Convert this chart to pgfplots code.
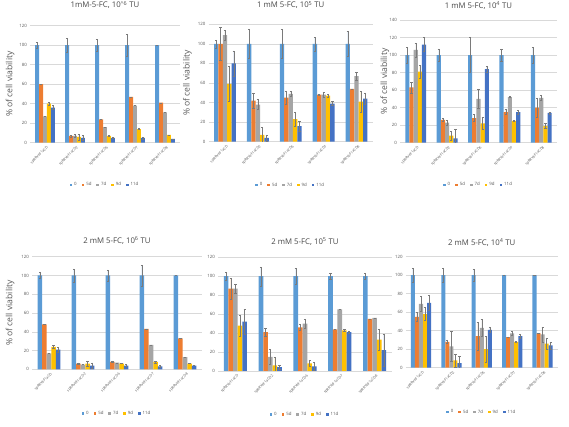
\documentclass[border=0pt]{standalone}
\usepackage{pgfplots}
\pgfplotsset{compat=1.18}
\usepackage{pgfplotstable}
\usepackage{fontspec}
\setmainfont{Open Sans}
\definecolor{c0}{HTML}{5B9BD5}
\definecolor{c5}{HTML}{ED7D31}
\definecolor{c7}{HTML}{A5A5A5}
\definecolor{c9}{HTML}{FFC000}
\definecolor{c11}{HTML}{4472C4}
\definecolor{txt}{HTML}{595959}
\definecolor{grd}{HTML}{D9D9D9}

% columns: 0, 5d, 7d, 9d, 11d with errors
\pgfplotstableread{
x a ae b be c ce d de e ee
0 100 3 60 0 27 0 40 1.5 36 2
1 100 7 7 1 7 1.5 6 3 5 2.5
2 100 6 24 0 16 0 7 0.5 5 0.5
3 100 11 47 0 38 0 14 0.5 5 1
4 100 0 41 0 31 0 8 0 4 0
}\tA
\pgfplotstableread{
x a ae b be c ce d de e ee
0 100 4 100 17 109 5 59 18 80 13
1 100 15 42 8 38 5 7 8 4 3
2 100 15 45 7 49 3 23 7 16 5
3 100 7 48 0.5 48 3 47 2 39 2
4 100 13 54 0 67 4 41 11 44 6
}\tB
\pgfplotstableread{
x a ae b be c ce d de e ee
0 100 9 63 6 106 8 81 7 112 8
1 100 7 26 2 23 3 8 5 5 10
2 100 20 28 4 50 11 22 7 84 3
3 100 7 35 3 52 0.5 25 1 35 2
4 100 9 40 11 51 3 19 3 34 1
}\tC
\pgfplotstableread{
x a ae b be c ce d de e ee
0 100 3 48 0 17 0 24 2 21 2.5
1 100 7 6 1 5 0 6 3 4 3
2 100 6 8 0.5 7 0 6 0 4 1
3 100 11 43 0 26 0 8 1 3 1
4 100 0 33 0 13 0 6 0 4 0
}\tD
\pgfplotstableread{
x a ae b be c ce d de e ee
0 100 4 87 11 87 5 48 11 52 13
1 100 10 41 4 15 8 6 9 4 2
2 100 8 46 3 50 5 8 3 5 4
3 100 3 44 0 65 0 43 1 41 1.5
4 100 3 55 0 56 0 33 11 22 17
}\tE
\pgfplotstableread{
x a ae b be c ce d de e ee
0 100 8 55 5 69 8 58 7 70 8
1 100 8 28 2 23 16 8 7 5 7
2 100 6 34 15 43 9 20 14 41 3
3 100 0.5 33 0.5 37 2 28 0.5 34 2
4 100 0 37 0 36 8 26 6 24 4
}\tF

\pgfplotsset{
  panel/.style={
    scale only axis,
    anchor=south west,
    ybar=0pt,
    bar width=0.133,
    xmin=-0.5, xmax=4.5, ymin=0,
    ytick distance=20,
    axis line style={draw=none},
    major tick length=0pt,
    ymajorgrids,
    grid style={draw=grd, line width=0.5pt},
    xtick={0,1,2,3,4},
    xticklabels={spRRVeF1aCD,spRRVeF1aCD2,spRRVeF1aCD6,spRRVeF1aCD7,spRRVeF1aCD8},
    x tick label style={rotate=45, anchor=north east, font=\fontsize{3.6}{4}\selectfont, text=txt, inner sep=1pt, yshift=-2pt},
    y tick label style={font=\fontsize{4.4}{5}\selectfont, text=txt, inner sep=1pt, xshift=-2pt},
    /pgf/number format/assume math mode=true,
    title style={font=\fontsize{7.8}{9}\selectfont, text=txt!80!black, anchor=center, at={(0.5,1)}},
    ylabel style={font=\fontsize{8.6}{10}\selectfont, text=txt, anchor=center},
    legend columns=5,
    legend style={draw=none, fill=none, font=\fontsize{4.4}{5}\selectfont, text=txt, anchor=center,
      /tikz/every even column/.append style={column sep=3pt}, inner sep=0pt},
    legend cell align=left,
  },
  bs/.style={fill=#1, draw=none,
    /pgfplots/error bars/y dir=both, /pgfplots/error bars/y explicit,
    /pgfplots/error bars/error bar style={draw=txt!80, line width=0.4pt},
    /pgfplots/error bars/error mark options={rotate=90, mark size=1.1pt, draw=txt!80, line width=0.4pt}},
  leg/.style={legend image code/.code={\fill[##1] (0pt,-1.3pt) rectangle (2.6pt,1.3pt);}},
}
\newcommand\bars[1]{%
  \addplot[bs=c0, bar shift=-0.266, leg] table[x=x,y=a,y error=ae]{#1};
  \addplot[bs=c5, bar shift=-0.133, leg] table[x=x,y=b,y error=be]{#1};
  \addplot[bs=c7, bar shift=0, leg] table[x=x,y=c,y error=ce]{#1};
  \addplot[bs=c9, bar shift=0.133, leg] table[x=x,y=d,y error=de]{#1};
  \addplot[bs=c11, bar shift=0.266, leg] table[x=x,y=e,y error=ee]{#1};
  \legend{0,5d,7d,9d,11d}
}

\begin{document}
\begin{tikzpicture}
\path[use as bounding box] (0,0) rectangle (569pt,427pt);

\begin{axis}[panel, at={(30pt,284.3pt)}, width=150pt, height=117pt, ymax=120,
  title={1mM-5-FC, 10\textsuperscript{\textasciicircum 6} TU}, title style={yshift=14.7pt},
  ylabel={\% of cell viability}, ylabel style={at={(axis description cs:-0.133,0.5)}},
  legend style={at={(0.5,-0.36)}}]
\bars{\tA}
\end{axis}

\begin{axis}[panel, at={(208.5pt,285.3pt)}, width=164.5pt, height=117.4pt, ymax=120,
  title={1 mM 5-FC, 10\textsuperscript{5} TU}, title style={yshift=13.3pt},
  ylabel={\% of cell viability}, ylabel style={at={(axis description cs:-0.128,0.5)}},
  legend style={at={(0.5,-0.37)}}]
\bars{\tB}
\end{axis}

\begin{axis}[panel, at={(400pt,284.3pt)}, width=157pt, height=122.7pt, ymax=140,
  title={1 mM 5-FC, 10\textsuperscript{4} TU}, title style={yshift=8.5pt},
  ylabel={\% of cell viability}, ylabel style={at={(axis description cs:-0.096,0.5)}},
  legend style={at={(0.5,-0.345)}}]
\bars{\tC}
\end{axis}

\begin{axis}[panel, at={(218pt,56pt)}, width=174pt, height=113.7pt, ymax=120,
  title={2 mM 5-FC, 10\textsuperscript{5} TU}, title style={yshift=9.5pt},
  legend style={at={(0.5,-0.38)}}]
\bars{\tE}
\end{axis}

\begin{axis}[panel, at={(32pt,57.7pt)}, width=170pt, height=112.6pt, ymax=120,
  title={2 mM 5-FC, 10\textsuperscript{6} TU}, title style={yshift=10pt},
  ylabel={\% of cell viability}, ylabel style={at={(axis description cs:-0.129,0.5)}},
  legend style={at={(0.5,-0.39)}}]
\bars{\tD}
\end{axis}

\begin{axis}[panel, at={(405.8pt,59.3pt)}, width=152pt, height=111pt, ymax=120,
  title={2 mM 5-FC, 10\textsuperscript{4} TU}, title style={yshift=8pt},
  legend style={at={(0.5,-0.4)}}]
\bars{\tF}
\end{axis}
\end{tikzpicture}
\end{document}
